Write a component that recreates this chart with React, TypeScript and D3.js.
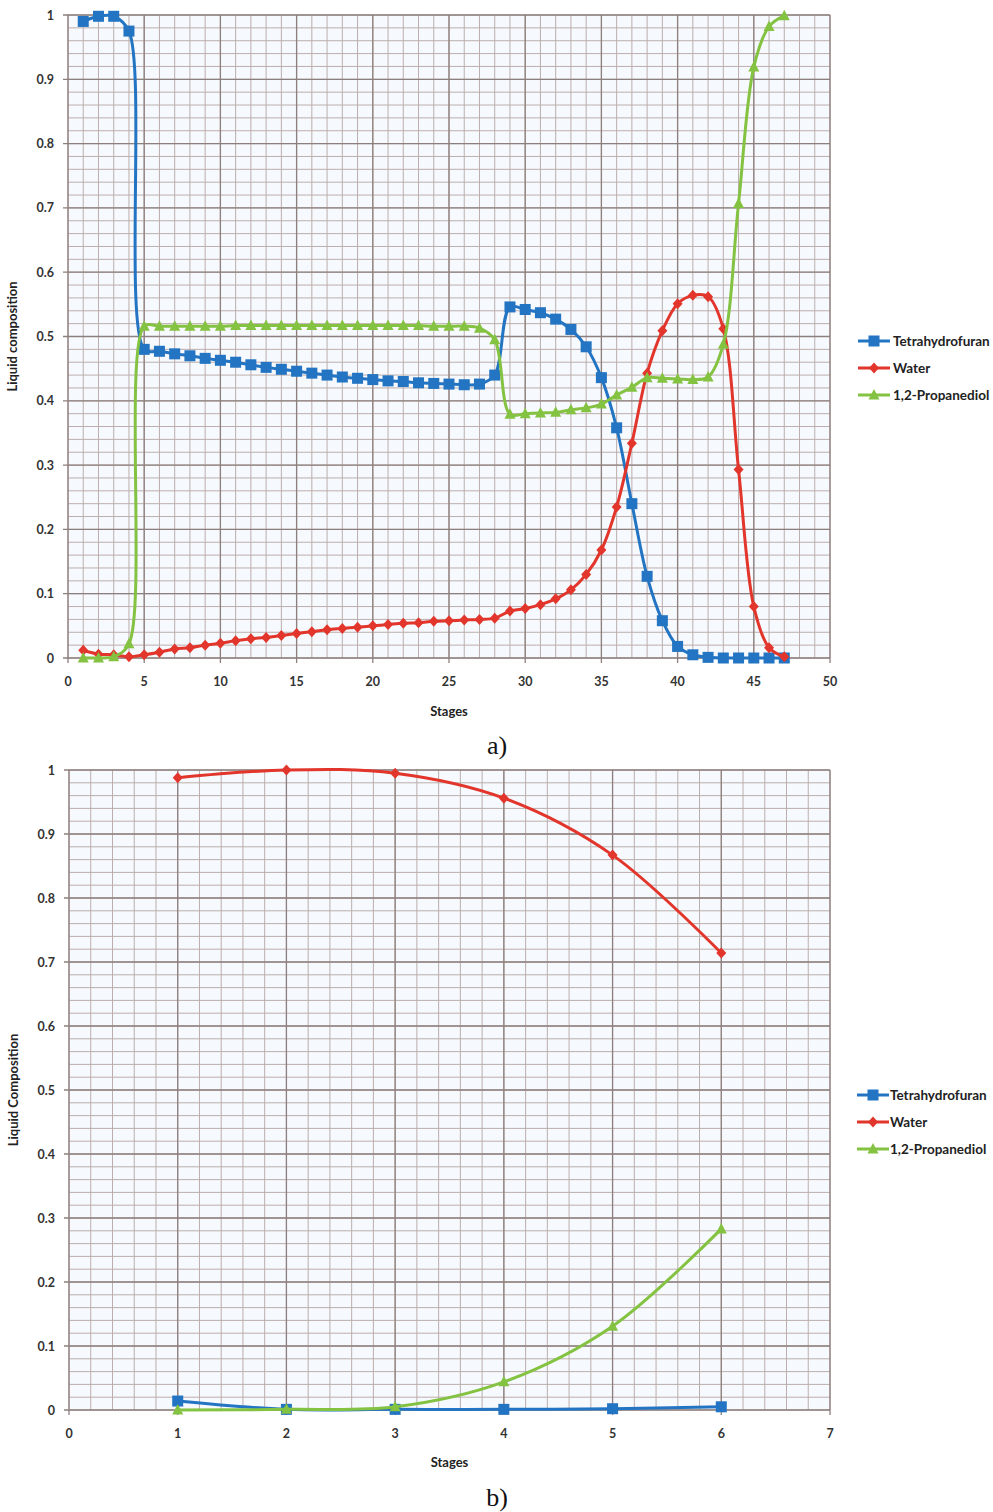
import React from 'react';
import * as d3 from 'd3';

// stage numbers
const stagesA = d3.range(1, 48);
const stagesB = [1, 2, 3, 4, 5, 6];

// chart a) liquid composition per stage
const thfA = [0.99, 0.998, 0.998, 0.975, 0.48, 0.477, 0.473, 0.47, 0.466, 0.463, 0.46, 0.456, 0.452, 0.449, 0.446, 0.443,
    0.44, 0.437, 0.435, 0.433, 0.431, 0.43, 0.428, 0.427, 0.426, 0.425, 0.426, 0.44, 0.546, 0.542, 0.537, 0.527,
    0.511, 0.484, 0.436, 0.358, 0.24, 0.127, 0.058, 0.018, 0.005, 0.001, 0, 0, 0, 0, 0];
const waterA = [0.012, 0.006, 0.005, 0.002, 0.005, 0.009, 0.014, 0.016, 0.02, 0.023, 0.027, 0.03, 0.032, 0.035, 0.038, 0.041,
    0.044, 0.046, 0.048, 0.05, 0.052, 0.054, 0.055, 0.057, 0.058, 0.059, 0.06, 0.062, 0.073, 0.077, 0.083, 0.092,
    0.106, 0.13, 0.168, 0.235, 0.334, 0.443, 0.509, 0.551, 0.564, 0.562, 0.512, 0.293, 0.08, 0.016, 0.002];
const propA = [0, 0, 0.002, 0.022, 0.516, 0.516, 0.516, 0.516, 0.516, 0.516, 0.517, 0.517, 0.517, 0.517, 0.517, 0.517,
    0.517, 0.517, 0.517, 0.517, 0.517, 0.517, 0.517, 0.516, 0.516, 0.516, 0.513, 0.495, 0.379, 0.38, 0.381, 0.382,
    0.386, 0.389, 0.395, 0.409, 0.421, 0.436, 0.435, 0.434, 0.433, 0.437, 0.488, 0.707, 0.919, 0.982, 0.999];

// chart b)
const thfB = [0.014, 0.001, 0.001, 0.001, 0.002, 0.005];
const waterB = [0.988, 1.0, 0.995, 0.956, 0.867, 0.714];
const propB = [0, 0.001, 0.005, 0.044, 0.131, 0.283];

const seriesNames = ['Tetrahydrofuran', 'Water', '1,2-Propanediol'];
const seriesColors = ['#2374c2', '#e2352b', '#84c241'];
const seriesMarkers = ['square', 'diamond', 'triangle'];

const yTicks = d3.range(0, 11).map(i => i / 10);
const xTicksA = d3.range(0, 51, 5);
const xTicksB = d3.range(0, 8);

const font = 'Lato, "Open Sans", sans-serif';

function Marker({ kind, x, y, color }: { kind: string, x: number, y: number, color: string }) {
    if (kind === 'square') {
        return <rect x={x - 5.5} y={y - 5.5} width={11} height={11} fill={color} />;
    }
    if (kind === 'diamond') {
        return <path d={`M${x},${y - 5.5}L${x + 5},${y}L${x},${y + 5.5}L${x - 5},${y}Z`} fill={color} />;
    }
    return <path d={`M${x},${y - 6}L${x + 5.5},${y + 4.5}L${x - 5.5},${y + 4.5}Z`} fill={color} />;
}

interface chartProps {
    stages: number[],
    series: number[][],
    xMax: number,
    xTicks: number[],
    xMinor: number,
    plotLeft: number,
    plotRight: number,
    plotTop: number,
    plotBottom: number,
    yTitle: string,
    legendX: number,
    legendY: number,
    legendTextX: number,
    label: string,
    labelY: number,
    titleY: number,
}

function Chart(p: chartProps) {
    const scaleX = d3.scaleLinear().domain([0, p.xMax]).range([p.plotLeft, p.plotRight]);
    const scaleY = d3.scaleLinear().domain([0, 1]).range([p.plotBottom, p.plotTop]);

    const minorX = d3.range(0, Math.round(p.xMax / p.xMinor) + 1).map(i => i * p.xMinor);
    const minorY = d3.range(0, 51).map(i => i / 50);

    const line = d3.line<[number, number]>()
        .x(d => scaleX(d[0]))
        .y(d => scaleY(d[1]))
        .curve(d3.curveCatmullRom.alpha(0.5));

    const midY = (p.plotTop + p.plotBottom) / 2;

    return (
        <g>
            <rect x={p.plotLeft} y={p.plotTop} width={p.plotRight - p.plotLeft} height={p.plotBottom - p.plotTop} fill="#f6f9fd" />
            {minorX.map((v, i) => (
                <line key={'mx' + i} x1={scaleX(v)} x2={scaleX(v)} y1={p.plotTop} y2={p.plotBottom} stroke="#bcaeac" strokeWidth={1} />
            ))}
            {minorY.map((v, i) => (
                <line key={'my' + i} x1={p.plotLeft} x2={p.plotRight} y1={scaleY(v)} y2={scaleY(v)} stroke="#bcaeac" strokeWidth={1} />
            ))}
            {p.xTicks.map((v, i) => (
                <line key={'gx' + i} x1={scaleX(v)} x2={scaleX(v)} y1={p.plotTop} y2={p.plotBottom} stroke="#8d7f7d" strokeWidth={1.3} />
            ))}
            {yTicks.map((v, i) => (
                <line key={'gy' + i} x1={p.plotLeft - 5} x2={p.plotRight} y1={scaleY(v)} y2={scaleY(v)} stroke="#8d7f7d" strokeWidth={1.3} />
            ))}
            {p.xTicks.map((v, i) => (
                <line key={'tx' + i} x1={scaleX(v)} x2={scaleX(v)} y1={p.plotBottom} y2={p.plotBottom + 5} stroke="#8d7f7d" strokeWidth={1.3} />
            ))}
            {yTicks.map((v, i) => (
                <text key={'ly' + i} x={p.plotLeft - 14} y={scaleY(v) + 4.5} textAnchor="end" fontSize={12.5} fontWeight="bold" fill="#333" fontFamily={font}>{d3.format('~g')(v)}</text>
            ))}
            {p.xTicks.map((v, i) => (
                <text key={'lx' + i} x={scaleX(v)} y={p.plotBottom + 28} textAnchor="middle" fontSize={12.5} fontWeight="bold" fill="#333" fontFamily={font}>{v}</text>
            ))}
            <text x={(p.plotLeft + p.plotRight) / 2} y={p.titleY} textAnchor="middle" fontSize={13} fontWeight="bold" fill="#222" fontFamily={font}>Stages</text>
            <text transform={`translate(${p.plotLeft - 51}, ${midY}) rotate(-90)`} textAnchor="middle" fontSize={13} fontWeight="bold" fill="#222" fontFamily={font}>{p.yTitle}</text>

            {p.series.map((values, s) => {
                const data = p.stages.map((x, i) => [x, values[i]] as [number, number]);
                return (
                    <g key={'s' + s}>
                        <path d={line(data) || ''} fill="none" stroke={seriesColors[s]} strokeWidth={3} />
                        {data.map((d, i) => (
                            <Marker key={i} kind={seriesMarkers[s]} x={scaleX(d[0])} y={scaleY(d[1])} color={seriesColors[s]} />
                        ))}
                    </g>
                );
            })}

            {seriesNames.map((name, s) => {
                const ly = p.legendY + s * 27;
                return (
                    <g key={'lg' + s}>
                        <line x1={p.legendX} x2={p.legendX + 32} y1={ly} y2={ly} stroke={seriesColors[s]} strokeWidth={3} />
                        <Marker kind={seriesMarkers[s]} x={p.legendX + 16} y={ly} color={seriesColors[s]} />
                        <text x={p.legendTextX} y={ly + 4.5} fontSize={13.5} fontWeight="bold" fill="#222" fontFamily={font}>{name}</text>
                    </g>
                );
            })}

            <text x={497} y={p.labelY} textAnchor="middle" fontSize={26} fill="#111" fontFamily='"Liberation Serif", serif'>{p.label}</text>
        </g>
    );
}

export default function App() {
    return (
        <svg width={993} height={1512} viewBox="0 0 993 1512" style={{ position: 'absolute', left: 0, top: 0, background: '#fff' }}>
            <Chart stages={stagesA} series={[thfA, waterA, propA]} xMax={50} xTicks={xTicksA} xMinor={1}
                plotLeft={68} plotRight={830} plotTop={15} plotBottom={658}
                yTitle="Liquid composition" legendX={858} legendY={341} legendTextX={893}
                label="a)" labelY={754} titleY={716} />
            <Chart stages={stagesB} series={[thfB, waterB, propB]} xMax={7} xTicks={xTicksB} xMinor={0.2}
                plotLeft={69} plotRight={830} plotTop={770} plotBottom={1410}
                yTitle="Liquid Composition" legendX={857} legendY={1095} legendTextX={890}
                label="b)" labelY={1506} titleY={1467} />
        </svg>
    );
}
